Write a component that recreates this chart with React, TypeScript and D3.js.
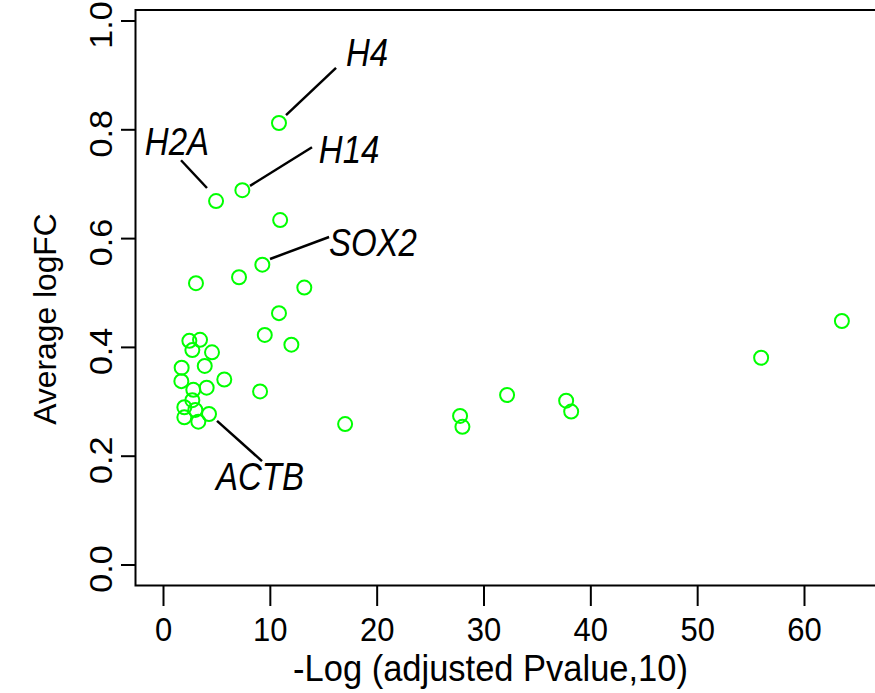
import React from "react";
import * as d3 from "d3";

const xValues = [10.81, 7.38, 4.92, 10.92, 9.25, 7.07, 3.04, 13.18, 10.81, 9.48, 11.97, 55.94, 63.5,
  2.42, 3.42, 2.70, 4.54, 1.70, 3.86, 1.67, 5.69, 4.04, 2.79, 2.70, 1.95, 2.98, 4.26, 1.95, 3.26,
  9.04, 17.0, 27.76, 27.98, 32.16, 37.69, 38.16];
const yValues = [0.8125, 0.689, 0.669, 0.634, 0.552, 0.529, 0.518, 0.510, 0.463, 0.423, 0.405, 0.381, 0.4485,
  0.412, 0.414, 0.395, 0.391, 0.3627, 0.366, 0.338, 0.341, 0.326, 0.322, 0.303, 0.290, 0.285, 0.2776, 0.2715, 0.2634,
  0.319, 0.259, 0.274, 0.254, 0.3125, 0.302, 0.282];

const xTicks = [0, 10, 20, 30, 40, 50, 60];
const yTicks = [0.0, 0.2, 0.4, 0.6, 0.8, 1.0];

const genes = ["H4", "H14", "H2A", "SOX2", "ACTB"];
const lineX0 = [11.47, 8.10, 1.64, 9.97, 5.01];
const lineY0 = [0.827, 0.697, 0.744, 0.5625, 0.265];
const lineX1 = [16.15, 13.90, 4.07, 15.5, 9.22];
const lineY1 = [0.914, 0.768, 0.693, 0.603, 0.191];
const textX = [19.05, 17.37, 1.26, 19.6, 9.03];
const textY = [0.943, 0.765, 0.779, 0.594, 0.164];

const xTitle = "-Log (adjusted Pvalue,10)";
const yTitle = "Average logFC";

export default function App() {
  const W = 875, H = 693;
  const x = d3.scaleLinear().domain([0, 60]).range([163.5, 804.5]);
  const y = d3.scaleLinear().domain([0, 1]).range([565, 21]);
  const boxL = 135.5, boxT = 10, boxB = 585.5;
  const font = "'Liberation Sans', Arial, Helvetica, sans-serif";
  const tickFs = 31, tickSy = 1.1;
  const geneFs = 33, geneSy = 1.18;
  return (
    <svg width={W} height={H} style={{ position: "absolute", left: 0, top: 0, background: "#fff" }}
      fontFamily={font}>
      <rect x={0} y={0} width={W} height={H} fill="#fff" />
      <path d={`M${W + 5},${boxT}H${boxL}V${boxB}H${W + 5}`} fill="none" stroke="#000" strokeWidth={2} />
      {yTicks.map((t) => (
        <g key={"y" + t}>
          <line x1={121} x2={boxL} y1={y(t)} y2={y(t)} stroke="#000" strokeWidth={2} />
          <text transform={`translate(112,${y(t) + 4}) rotate(-90) scale(${tickSy},1)`} textAnchor="middle"
            fontSize={tickFs} fill="#000">{t.toFixed(1)}</text>
        </g>
      ))}
      {xTicks.map((t) => (
        <g key={"x" + t}>
          <line x1={x(t)} x2={x(t)} y1={boxB} y2={606} stroke="#000" strokeWidth={2} />
          <text transform={`translate(${x(t)},641) scale(1,${tickSy})`} textAnchor="middle" fontSize={tickFs}
            fill="#000">{t}</text>
        </g>
      ))}
      <text transform={`translate(${(292 + 689) / 2},681) scale(1,1.08)`} textAnchor="middle" fontSize={34.5}
        fill="#000">{xTitle}</text>
      <text transform={`translate(56,319) rotate(-90)`} textAnchor="middle" fontSize={31.8}
        fill="#000">{yTitle}</text>
      {xValues.map((v, i) => (
        <circle key={"p" + i} cx={x(v)} cy={y(yValues[i])} r={7} fill="none" stroke="#00ff00" strokeWidth={2} />
      ))}
      {genes.map((g, i) => (
        <g key={g}>
          <line x1={x(lineX0[i])} y1={y(lineY0[i])} x2={x(lineX1[i])} y2={y(lineY1[i])} stroke="#000"
            strokeWidth={2.5} />
          <text transform={`translate(${x(textX[i])},${y(textY[i]) + 0.36 * geneFs * geneSy}) scale(1,${geneSy})`}
            textAnchor="middle" fontSize={geneFs} fontStyle="italic" fill="#000">{g}</text>
        </g>
      ))}
    </svg>
  );
}
